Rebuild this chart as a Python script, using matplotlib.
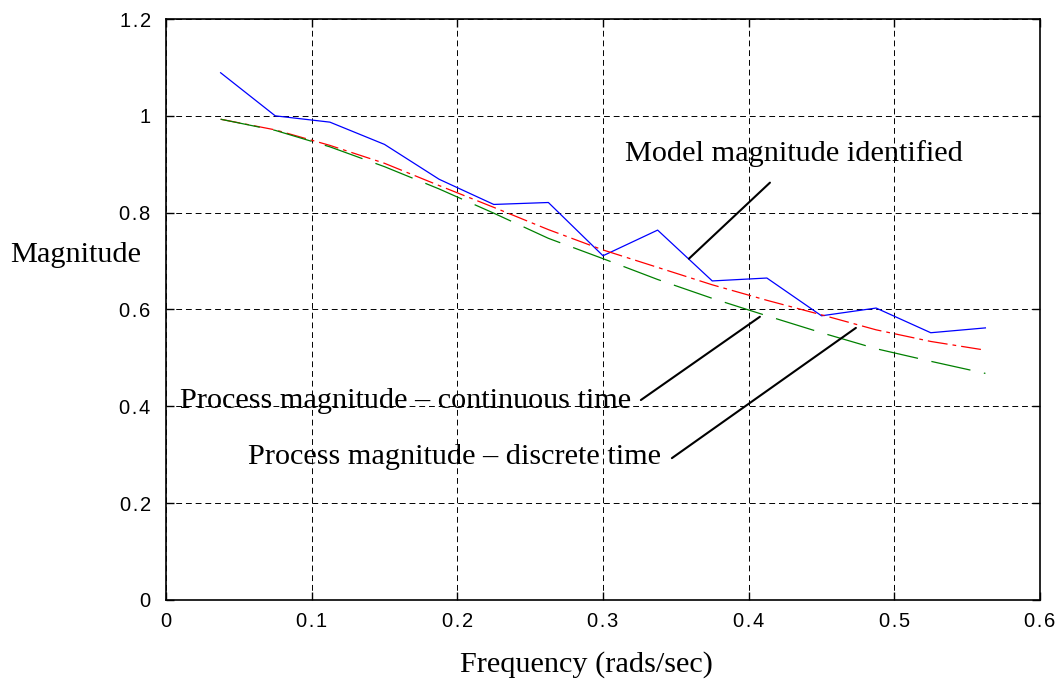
import matplotlib
matplotlib.use("Agg")
import matplotlib.pyplot as plt

freq = [0.0375, 0.075, 0.1125, 0.15, 0.1875, 0.225, 0.2625, 0.3,
        0.3375, 0.375, 0.4125, 0.45, 0.4875, 0.525, 0.5625]
model_mag = [1.089, 1.0, 0.987, 0.941, 0.869, 0.817, 0.821, 0.711,
             0.764, 0.659, 0.665, 0.587, 0.603, 0.552, 0.562]
cont_mag = [0.993, 0.971, 0.939, 0.902, 0.856, 0.811, 0.765, 0.723,
            0.687, 0.651, 0.619, 0.589, 0.558, 0.534, 0.516]
disc_mag = [0.993, 0.970, 0.936, 0.895, 0.849, 0.799, 0.747, 0.705,
            0.662, 0.623, 0.587, 0.552, 0.519, 0.493, 0.468]

xticks = [0, 0.1, 0.2, 0.3, 0.4, 0.5, 0.6]
xtick_labels = ["0", "0.1", "0.2", "0.3", "0.4", "0.5", "0.6"]
yticks = [0, 0.2, 0.4, 0.6, 0.8, 1.0, 1.2]
ytick_labels = ["0", "0.2", "0.4", "0.6", "0.8", "1", "1.2"]


def spaced(s):
    return s.replace(".", "\u200a.\u200a")


fig = plt.figure(figsize=(10.62, 6.89), dpi=100)
ax = fig.add_axes([0.1563, 0.1292, 0.8230, 0.8432])

ax.plot(freq, model_mag, color="#0000ff", lw=0.9)
ax.plot(freq, cont_mag, color="#ff0000", lw=0.9, dashes=(16, 4, 3, 4))
ax.plot(freq, disc_mag, color="#008000", lw=0.9, dashes=(32, 11))

ax.set_xlim(0, 0.6)
ax.set_ylim(0, 1.2)
ax.set_xticks(xticks)
ax.set_xticklabels([spaced(t) for t in xtick_labels])
ax.set_yticks(yticks)
ax.set_yticklabels([spaced(t) for t in ytick_labels])
ax.grid(True, color="black", linestyle=(0, (6, 4)), linewidth=0.7)
ax.tick_params(direction="in", length=6, width=1, top=True, right=True,
               labelsize=14.5)
ax.tick_params(axis="y", pad=11)
ax.tick_params(axis="x", pad=9)
for lab in ax.get_xticklabels() + ax.get_yticklabels():
    lab.set_family("Liberation Sans")
for sp in ax.spines.values():
    sp.set_linewidth(1.2)

serif = "Liberation Serif"
fs = 21.8
fig.text(0.5518, 0.0348, "Frequency (rads/sec)", family=serif, fontsize=fs,
         ha="center", va="center")
fig.text(0.0094, 0.630, "Magnitude", family=serif, fontsize=fs,
         ha="left", va="center")

arrow = dict(arrowstyle="-", color="black", lw=1.5, shrinkA=0, shrinkB=0)
ax.annotate("", xy=(0.4146, 0.862), xytext=(0.359, 0.705), arrowprops=arrow)
ax.annotate("", xy=(0.4077, 0.585), xytext=(0.326, 0.413), arrowprops=arrow)
ax.annotate("", xy=(0.4736, 0.562), xytext=(0.3473, 0.293), arrowprops=arrow)

ax.text(0.315, 0.922, "Model magnitude identified", family=serif,
        fontsize=fs, ha="left", va="center")
ax.text(0.0096, 0.411, "Process magnitude \u2013 continuous time",
        family=serif, fontsize=fs, ha="left", va="center")
ax.text(0.0563, 0.296, "Process magnitude \u2013 discrete time",
        family=serif, fontsize=fs, ha="left", va="center")

fig.savefig("out.png", dpi=100)
